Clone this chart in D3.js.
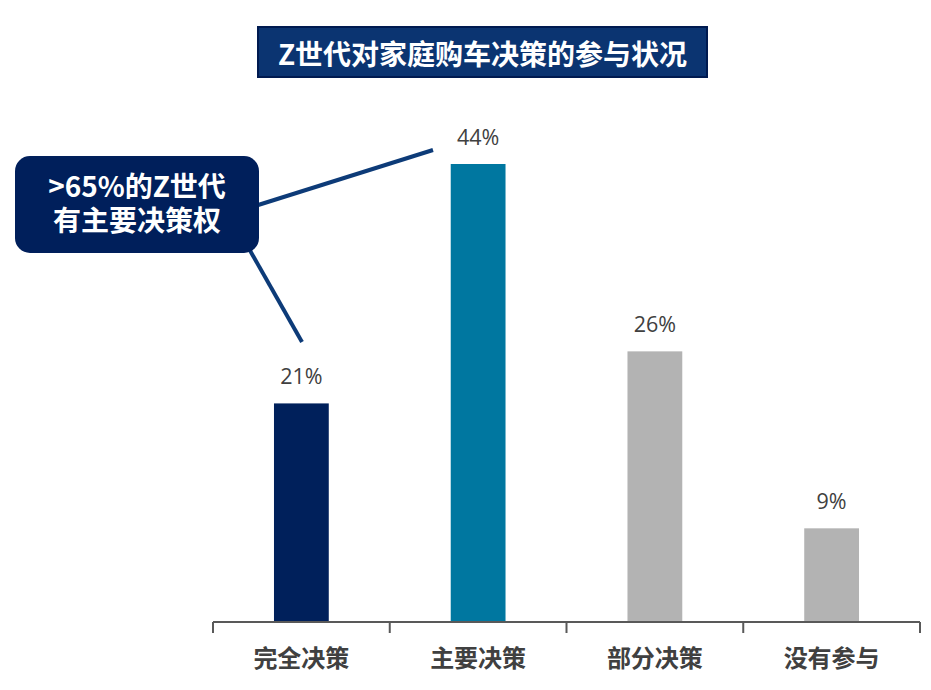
<!DOCTYPE html>
<html><head><meta charset="utf-8">
<script src="https://cdn.jsdelivr.net/npm/d3@7"></script>
<style>
html,body{margin:0;padding:0;background:#fff;}
svg{display:block;font-family:"Noto Sans CJK SC","Noto Sans",sans-serif;}
</style></head>
<body><svg id="c" width="931" height="690"></svg>
<script>
const categories = ["完全决策","主要决策","部分决策","没有参与"];
const values = [21,44,26,9];
const barColors = ["#00205b","#0077a0","#b3b3b3","#b3b3b3"];
const title = "Z世代对家庭购车决策的参与状况";
const calloutLines = [">65%的Z世代","有主要决策权"];

const svg = d3.select("#c");
const x = d3.scaleBand().domain(categories).range([213,920]).paddingInner(0.69).paddingOuter(0.345);
const y = d3.scaleLinear().domain([0,44]).range([622,164]);

// bars
svg.selectAll("rect.bar").data(values).join("rect")
  .attr("class","bar")
  .attr("x",(d,i)=>x(categories[i]))
  .attr("width",x.bandwidth())
  .attr("y",d=>y(d))
  .attr("height",d=>y(0)-y(d))
  .attr("fill",(d,i)=>barColors[i]);

// value labels
svg.selectAll("text.val").data(values).join("text")
  .attr("class","val")
  .attr("x",(d,i)=>x(categories[i])+x.bandwidth()/2)
  .attr("y",d=>y(d)-19)
  .attr("text-anchor","middle")
  .attr("font-family","'Open Sans', Roboto, sans-serif")
  .attr("font-size",21.5)
  .attr("fill","#404040")
  .text(d=>d+"%");

// axis
const axis = d3.axisBottom(x).tickSize(0).tickFormat("");
const ag = svg.append("g").attr("transform","translate(0,622)").call(axis);
ag.select(".domain").attr("stroke","#595959").attr("stroke-width",2).attr("d","M213,0H920");
const bounds = [213].concat(categories.map(c=>x(c)+x.bandwidth()/2+x.step()/2));
svg.selectAll("line.tk").data(bounds).join("line")
  .attr("class","tk")
  .attr("x1",d=>d).attr("x2",d=>d)
  .attr("y1",622).attr("y2",633)
  .attr("stroke","#595959").attr("stroke-width",2);
svg.selectAll("text.cat").data(categories).join("text")
  .attr("class","cat")
  .attr("x",d=>x(d)+x.bandwidth()/2)
  .attr("y",656)
  .attr("dominant-baseline","central")
  .attr("text-anchor","middle")
  .attr("font-size",24)
  .attr("font-weight","bold")
  .attr("fill","#404040")
  .text(d=>d);

// title
svg.append("rect").attr("x",258).attr("y",27).attr("width",449).attr("height",50)
  .attr("fill","#0b3471").attr("stroke","#001a50").attr("stroke-width",2);
svg.append("text").attr("x",482.5).attr("y",53).attr("dominant-baseline","central").attr("text-anchor","middle")
  .attr("font-size",28).attr("font-weight","bold").attr("fill","#fff").text(title);

// callout leader lines
svg.append("line").attr("x1",255).attr("y1",206).attr("x2",433).attr("y2",150)
  .attr("stroke","#0d3b78").attr("stroke-width",4);
svg.append("line").attr("x1",248).attr("y1",247).attr("x2",302).attr("y2",342)
  .attr("stroke","#0d3b78").attr("stroke-width",4);

// callout box
svg.append("rect").attr("x",15).attr("y",156).attr("width",244).attr("height",97)
  .attr("rx",15).attr("fill","#001f5b");
const co = svg.append("text")
  .attr("text-anchor","middle").attr("font-size",28).attr("font-weight","bold")
  .attr("fill","#fff");
co.selectAll("tspan").data(calloutLines).join("tspan")
  .attr("x",137).attr("y",(d,i)=>197+i*34)
  .text(d=>d);
</script></body></html>
